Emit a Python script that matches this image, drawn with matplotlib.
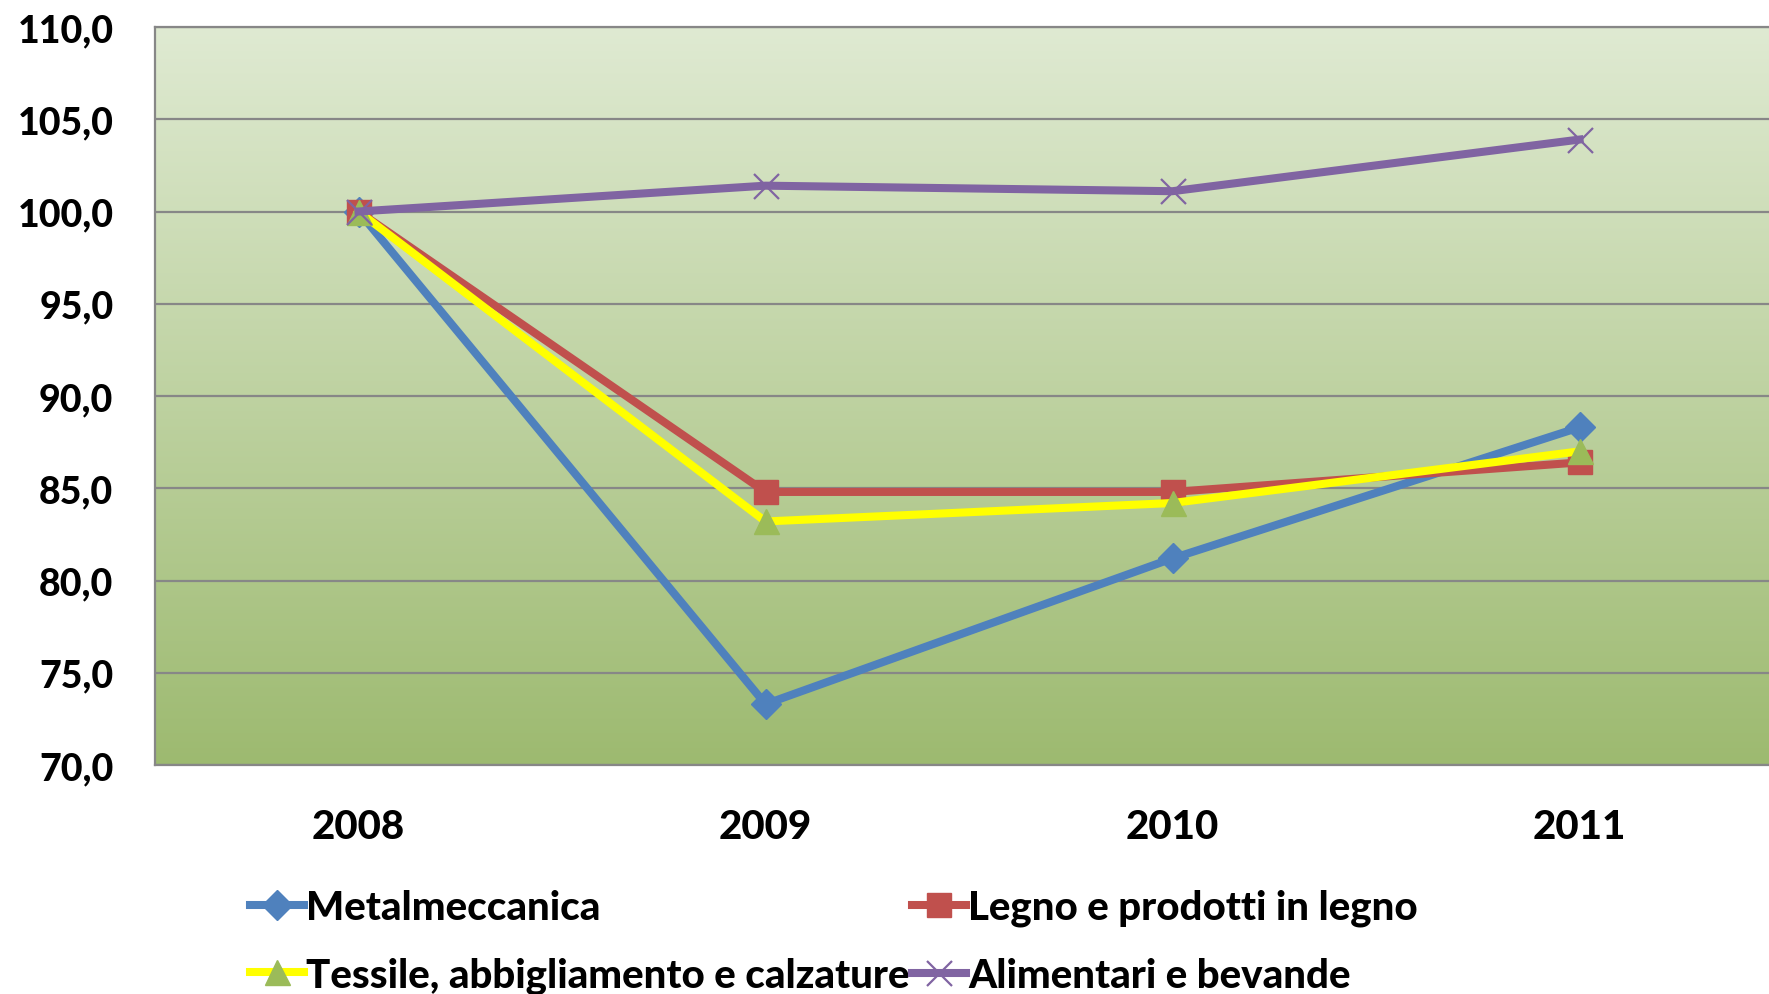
import numpy as np
import matplotlib
matplotlib.use("Agg")
import matplotlib.pyplot as plt
from matplotlib.colors import LinearSegmentedColormap

plt.rcParams["font.family"] = ["Lato", "DejaVu Sans"]
plt.rcParams["font.weight"] = "black"

# --- data (index 2008 = 100) ---
years = ["2008", "2009", "2010", "2011"]
metalmeccanica = [100.0, 73.3, 81.2, 88.3]
legno = [100.0, 84.8, 84.8, 86.4]
tessile = [100.0, 83.2, 84.2, 87.0]
alimentari = [100.0, 101.4, 101.1, 103.9]
y_ticks = [70, 75, 80, 85, 90, 95, 100, 105, 110]

GRID = "#878787"
BLUE = "#4F81BD"
RED = "#C0504D"
YELLOW = "#FFFF00"
GREEN = "#9BBB59"
PURPLE = "#8064A2"

fig = plt.figure(figsize=(17.69, 9.95), dpi=100)
ax = fig.add_axes([155 / 1769, 1 - 766 / 995, 1628 / 1769, 738 / 995])

# gradient plot background, light at the top
grad = LinearSegmentedColormap.from_list("bg", ["#9DBA70", "#DFEAD2"])
ax.imshow(np.linspace(0, 1, 256).reshape(-1, 1), cmap=grad, origin="lower",
          extent=[0, 1, 0, 1], transform=ax.transAxes, aspect="auto", zorder=0)

x = np.arange(len(years))
lw = 5.8
h_met, = ax.plot(x, metalmeccanica, color=BLUE, lw=lw, marker="D", ms=15,
                 mfc=BLUE, mec=BLUE, zorder=3, label="Metalmeccanica")
h_leg, = ax.plot(x, legno, color=RED, lw=lw, marker="s", ms=17,
                 mfc=RED, mec=RED, zorder=4, label="Legno e prodotti in legno")
h_tes, = ax.plot(x, tessile, color=YELLOW, lw=lw, marker="^", ms=18,
                 mfc=GREEN, mec=GREEN, zorder=5, label="Tessile, abbigliamento e calzature")
h_ali, = ax.plot(x, alimentari, color=PURPLE, lw=lw, marker="x", ms=18, mew=1.6,
                 mec=PURPLE, zorder=6, label="Alimentari e bevande")

ax.set_xlim(-0.5, 3.5)
ax.set_ylim(70, 110)
ax.set_xticks(x)
ax.set_xticklabels(years)
ax.set_yticks(y_ticks)
ax.set_yticklabels([f"{v:.1f}".replace(".", ",") for v in y_ticks])
ax.tick_params(axis="both", length=0)
ax.tick_params(axis="y", labelsize=27, pad=30)
ax.tick_params(axis="x", labelsize=29, pad=31)

ax.grid(axis="y", color=GRID, lw=1.6, zorder=1)
ax.set_axisbelow(False)
for side in ["left", "bottom", "top"]:
    ax.spines[side].set_color(GRID)
    ax.spines[side].set_linewidth(1.6)
ax.spines["right"].set_visible(False)

# legend filled row-wise like the original: column 1 = Metal/Tessile
handles = [h_met, h_tes, h_leg, h_ali]
fig.legend(handles=handles, labels=[h.get_label() for h in handles],
           loc="upper left", bbox_to_anchor=(250 / 1769, 1 - 890 / 995),
           ncol=2, frameon=False, fontsize=29, handlelength=1.35,
           handletextpad=0.05, columnspacing=0.05, borderpad=0,
           borderaxespad=0, labelspacing=0.75, markerscale=1.0)

fig.savefig("out.png", dpi=100)
